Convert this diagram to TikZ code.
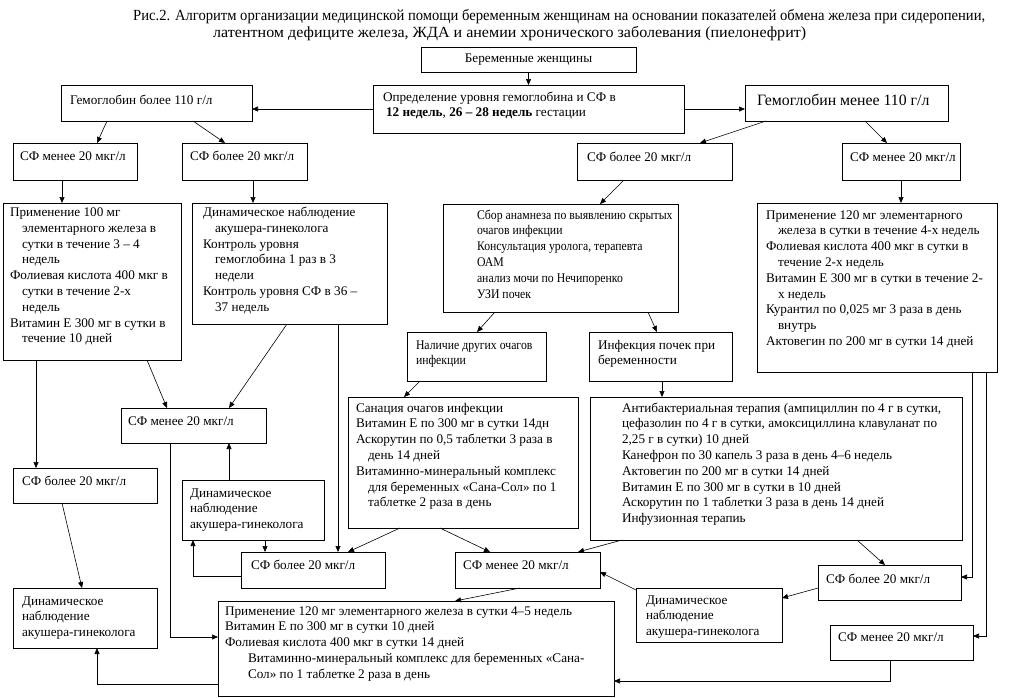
\documentclass[tikz,border=0pt]{standalone}
\usepackage{fontspec}
\usepackage{graphicx}
\setmainfont{Liberation Serif}
\newfontfamily\narrowf[FakeStretch=0.89]{Liberation Serif}
\usetikzlibrary{arrows.meta,calc}
\newcommand\fs{\fontsize{13.2}{15.8}\selectfont}
\newcommand\ind{\hspace*{12pt}}
\tikzset{
  box/.style={draw, line width=0.8pt, inner sep=0pt, outer sep=0pt, anchor=north west, font=\fs},
  arr/.style={-{Triangle[length=6pt,width=5pt]}, line width=0.6pt},
  ttl/.style={anchor=west, inner sep=0pt, font=\fontsize{15.5}{18}\selectfont},
}
% name, x1, y1, x2, y2, text x, first baseline y, text
\newcommand\bx[8]{%
  \node[box] (#1) at (#2,#3) {\parbox[c][\dimexpr #5pt-#3pt\relax][t]{\dimexpr #4pt-#2pt\relax}{%
    \leftskip=\dimexpr #6pt-#2pt\relax \rightskip=-80pt plus 1fil \parindent=0pt
    \vspace*{\dimexpr #7pt-#3pt-11pt\relax}\rule{0pt}{11pt}#8\par}};}
\begin{document}
\begin{tikzpicture}[x=1pt,y=-1pt]
\useasboundingbox[fill=white] (0,0) rectangle (1022,697);
\node[ttl] (title1) at (133,17) {\resizebox{852pt}{\height}{Рис.2. Алгоритм организации медицинской помощи беременным женщинам на основании показателей обмена железа при сидеропении,}};
\node[ttl] (title2) at (213,34) {\resizebox{593pt}{\height}{латентном дефиците железа, ЖДА и анемии хронического заболевания (пиелонефрит)}};

\node[box, anchor=north west, minimum width=215pt, minimum height=25pt] (A) at (421,47) {Беременные женщины};
\bx{B}{373}{85}{684}{133}{383}{101}{Определение уровня гемоглобина и СФ в\\\hspace*{3pt}\textbf{12 недель}, \textbf{26 – 28 недель} гестации}
\bx{C}{61}{85}{252}{121}{70}{104}{Гемоглобин более 110 г/л}
\bx{D}{745}{85}{948}{121}{757}{105}{\fontsize{15.8}{18}\selectfont Гемоглобин менее 110 г/л}
\bx{L1}{13}{143}{137}{180}{20}{160}{СФ менее 20 мкг/л}
\bx{L2}{182}{143}{307}{180}{190}{160}{СФ более 20 мкг/л}
\bx{R1}{577}{143}{732}{180}{587}{161}{СФ более 20 мкг/л}
\bx{R2}{842}{143}{960}{180}{850}{161}{СФ менее 20 мкг/л}
\bx{P1}{3}{203}{181}{360}{10}{216.5}{Применение 100 мг\\\ind элементарного железа в\\\ind сутки в течение 3 – 4\\\ind недель\\Фолиевая кислота 400 мкг в\\\ind сутки в течение 2-х\\\ind недель\\Витамин Е 300 мг в сутки в\\\ind течение 10 дней}
\bx{P2}{192}{203}{387}{324}{203}{216.5}{Динамическое наблюдение\\\ind акушера-гинеколога\\Контроль уровня\\\ind гемоглобина 1 раз в 3\\\ind недели\\Контроль уровня СФ в 36 –\\\ind 37 недель}
\bx{P3}{443}{204}{678}{312}{477}{219}{\narrowf Сбор анамнеза по выявлению скрытых\\очагов инфекции\\Консультация уролога, терапевта\\ОАМ\\анализ мочи по Нечипоренко\\УЗИ почек}
\bx{P4}{757}{203}{997}{372}{766}{219}{Применение 120 мг элементарного\\\ind железа в сутки в течение 4-х недель\\Фолиевая кислота 400 мкг в сутки в\\\ind течение 2-х недель\\Витамин Е 300 мг в сутки в течение 2-\\\ind х недель\\Курантил по 0,025 мг 3 раза в день\\\ind внутрь\\Актовегин по 200 мг в сутки 14 дней}
\bx{Q1}{407}{332}{546}{381}{416}{349}{\narrowf Наличие других очагов\\инфекции}
\bx{Q2}{589}{332}{732}{381}{598}{349}{Инфекция почек при\\беременности}
\bx{San}{348}{397}{578}{528}{356}{412}{Санация очагов инфекции\\Витамин Е по 300 мг в сутки 14дн\\Аскорутин по 0,5 таблетки 3 раза в\\\ind день 14 дней\\Витаминно-минеральный комплекс\\\ind для беременных «Сана-Сол» по 1\\\ind таблетке 2 раза в день}
\bx{Anti}{590}{397}{962}{540}{622}{412}{Антибактериальная терапия (ампициллин по 4 г в сутки,\\цефазолин по 4 г в сутки, амоксициллина клавуланат по\\2,25 г в сутки) 10 дней\\Канефрон по 30 капель 3 раза в день 4–6 недель\\Актовегин по 200 мг в сутки 14 дней\\Витамин Е по 300 мг в сутки в 10 дней\\Аскорутин по 1 таблетки 3 раза в день 14 дней\\Инфузионная терапиь}
\bx{SFmc}{121}{408}{266}{443}{128}{425}{СФ менее 20 мкг/л}
\bx{SFbl}{13}{468}{157}{503}{22}{485}{СФ более 20 мкг/л}
\bx{Dyn1}{182}{480}{324}{540}{190}{497}{Динамическое\\наблюдение\\акушера-гинеколога}
\bx{SFbc}{241}{552}{385}{588}{251}{569}{СФ более 20 мкг/л}
\bx{SFmc2}{455}{552}{600}{588}{463}{569}{СФ менее 20 мкг/л}
\bx{SFbr}{818}{565}{961}{600}{826}{583}{СФ более 20 мкг/л}
\bx{Dyn2}{636}{588}{782}{642}{646}{604}{Динамическое\\наблюдение\\акушера-гинеколога}
\bx{SFmr}{830}{625}{973}{660}{838}{641}{СФ менее 20 мкг/л}
\bx{Dyn3}{13}{588}{157}{648}{22}{605}{Динамическое\\наблюдение\\акушера-гинеколога}
\bx{Final}{218}{601}{614}{696}{225}{615}{Применение 120 мг элементарного железа в сутки 4–5 недель\\Витамин Е по 300 мг в сутки 10 дней\\Фолиевая кислота 400 мкг в сутки 14 дней\\\hspace*{23pt}Витаминно-минеральный комплекс для беременных «Сана-\\\hspace*{23pt}Сол» по 1 таблетке 2 раза в день}

% connectors
\draw[arr] (A.south) -- (B.north);
\draw[arr] (B.west) -- (B.west -| C.east);
\draw[arr] (B.east) -- (B.east -| D.west);
\draw[arr] ($(C.south west)+(46,0)$) -- ($(L1.north west)+(84,0)$);
\draw[arr] ($(C.south west)+(132,0)$) -- ($(L2.north west)+(43,0)$);
\draw[arr] ($(D.south west)+(21,0)$) -- ($(R1.north west)+(123,0)$);
\draw[arr] ($(D.south west)+(120,0)$) -- ($(R2.north west)+(45,0)$);
\draw[arr] ($(L1.south west)+(49,0)$) -- ($(P1.north west)+(59,0)$);
\draw[arr] ($(L2.south west)+(71,0)$) -- ($(P2.north west)+(61,0)$);
\draw[arr] ($(R1.south west)+(47,0)$) -- ($(P3.north west)+(157,0)$);
\draw[arr] ($(R2.south west)+(59,0)$) -- ($(P4.north west)+(144,0)$);
\draw[arr] ($(P3.south west)+(52,0)$) -- ($(Q1.north west)+(70,0)$);
\draw[arr] ($(P3.south west)+(205,0)$) -- ($(Q2.north west)+(68,0)$);
\draw[arr] ($(Q1.south west)+(13,0)$) -- ($(San.north west)+(56,0)$);
\draw[arr] ($(Q2.south west)+(73,0)$) -- ($(Anti.north west)+(72,0)$);
\draw[arr] ($(P1.south west)+(33,0)$) -- ($(SFbl.north west)+(23,0)$);
\draw[arr] ($(P1.south west)+(144,0)$) -- ($(SFmc.north west)+(46,0)$);
\draw[arr] ($(P2.south west)+(95,0)$) -- ($(SFmc.north west)+(108,0)$);
\draw[arr] ($(P2.south west)+(146,0)$) -- ($(SFbc.north west)+(97,0)$);
\draw[arr] ($(SFmc.south west)+(49,0)$) |- ($(Final.north west)+(0,36)$);
\draw[arr] ($(Dyn1.north west)+(47,0)$) -- ($(SFmc.south west)+(108,0)$);
\draw[arr] ($(SFbc.south west)+(0,-12)$) -| ($(Dyn1.south west)+(11,0)$);
\draw[arr] ($(Dyn1.south west)+(83,0)$) -- ($(SFbc.north west)+(24,0)$);
\draw[arr] ($(San.south west)+(52,0)$) -- ($(SFbc.north west)+(107,0)$);
\draw[arr] ($(San.south west)+(92,0)$) -- ($(SFmc2.north west)+(35,0)$);
\draw[arr] ($(Anti.south west)+(32,0)$) -- ($(SFmc2.north east)+(-22,0)$);
\draw[arr] ($(Anti.south west)+(267,0)$) -- ($(SFbr.north west)+(67,0)$);
\draw[arr] ($(P4.south west)+(215,0)$) |- ($(SFbr.north east)+(0,12)$);
\draw[arr] ($(P4.south west)+(229,0)$) |- ($(SFmr.north east)+(0,11)$);
\draw[arr] ($(SFbr.north west)+(0,23)$) -- ($(Dyn2.north east)+(0,10)$);
\draw[arr] ($(Dyn2.north west)+(0,2)$) -- ($(SFmc2.north east)+(0,20)$);
\draw[arr] ($(SFmc2.south west)+(65,0)$) -- ($(Final.north west)+(237,0)$);
\draw[arr] ($(SFmr.south west)+(60,0)$) |- ($(Final.north east)+(0,80)$);
\draw[arr] ($(Final.south west)+(0,-12)$) -| ($(Dyn3.south west)+(84,0)$);
\draw[arr] ($(SFbl.south west)+(49,0)$) -- ($(Dyn3.north west)+(69,0)$);
\end{tikzpicture}
\end{document}
